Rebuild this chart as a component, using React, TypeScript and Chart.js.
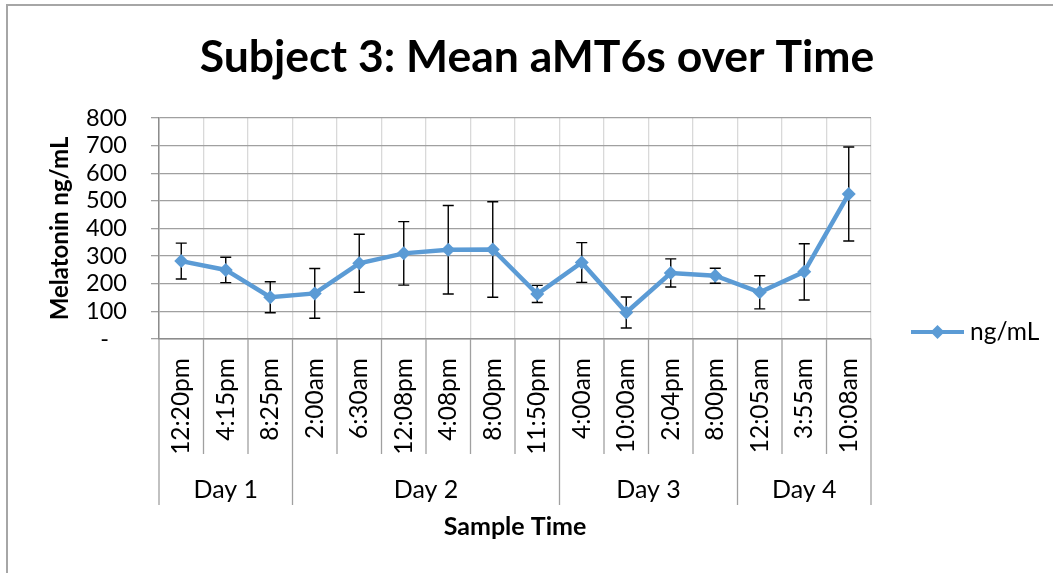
import React, { useEffect, useRef } from 'react';
import { Chart, registerables } from 'chart.js';

Chart.register(...registerables);

const chartTitle = 'Subject 3: Mean aMT6s over Time';
const yAxisTitle = 'Melatonin ng/mL';
const xAxisTitle = 'Sample Time';
const seriesName = 'ng/mL';

const sampleTimes = [
  '12:20pm', '4:15pm', '8:25pm',
  '2:00am', '6:30am', '12:08pm', '4:08pm', '8:00pm', '11:50pm',
  '4:00am', '10:00am', '2:04pm', '8:00pm',
  '12:05am', '3:55am', '10:08am',
];
const dayLabels = ['Day 1', 'Day 2', 'Day 3', 'Day 4'];
const daySizes = [3, 6, 4, 3];

const meanValues = [282, 250, 151, 165, 274, 310, 323, 324, 163, 277, 96, 239, 229, 169, 243, 525];
const errorValues = [65, 46, 56, 90, 105, 115, 160, 173, 31, 72, 56, 51, 27, 60, 102, 170];

const yMin = 0;
const yMax = 800;
const yStep = 100;

const FONT = 'Lato';
const LINE_COLOR = '#5b9bd5';

const decorPlugin = {
  id: 'decor',
  beforeDraw(chart: any) {
    const ctx = chart.ctx;
    ctx.save();
    ctx.fillStyle = '#ffffff';
    ctx.fillRect(0, 0, chart.width, chart.height);
    ctx.strokeStyle = '#a6a6a6';
    ctx.lineWidth = 2;
    ctx.beginPath();
    ctx.moveTo(7, chart.height);
    ctx.lineTo(7, 5);
    ctx.lineTo(chart.width, 5);
    ctx.stroke();
    ctx.restore();
  },
  beforeDatasetsDraw(chart: any) {
    const { ctx, scales } = chart;
    const x = scales.x;
    const y = scales.y;
    ctx.save();
    ctx.strokeStyle = '#000000';
    ctx.lineWidth = 1.4;
    meanValues.forEach((m, i) => {
      const px = x.getPixelForValue(i);
      const top = y.getPixelForValue(m + errorValues[i]);
      const bot = y.getPixelForValue(m - errorValues[i]);
      ctx.beginPath();
      ctx.moveTo(px, top);
      ctx.lineTo(px, bot);
      ctx.moveTo(px - 5.5, top);
      ctx.lineTo(px + 5.5, top);
      ctx.moveTo(px - 5.5, bot);
      ctx.lineTo(px + 5.5, bot);
      ctx.stroke();
    });
    ctx.restore();
  },
  afterDraw(chart: any) {
    const { ctx, chartArea, scales } = chart;
    const x = scales.x;
    const n = sampleTimes.length;
    const groupEnds = new Set<number>();
    let acc = 0;
    groupEnds.add(0);
    daySizes.forEach((s) => {
      acc += s;
      groupEnds.add(acc);
    });
    ctx.save();
    // category separators below axis
    ctx.strokeStyle = '#a0a0a0';
    ctx.lineWidth = 1.3;
    for (let i = 0; i <= n; i++) {
      let px: number;
      if (i === 0) px = chartArea.left;
      else if (i === n) px = chartArea.right;
      else px = (x.getPixelForValue(i - 1) + x.getPixelForValue(i)) / 2;
      const bottom = groupEnds.has(i) ? chartArea.bottom + 166 : chartArea.bottom + 115;
      ctx.beginPath();
      ctx.moveTo(px, chartArea.bottom);
      ctx.lineTo(px, bottom);
      ctx.stroke();
    }
    // day labels
    ctx.fillStyle = '#000000';
    ctx.font = `25px ${FONT}`;
    ctx.textAlign = 'center';
    ctx.textBaseline = 'middle';
    acc = 0;
    dayLabels.forEach((d, k) => {
      const first = acc;
      const last = acc + daySizes[k] - 1;
      acc += daySizes[k];
      const cx = (x.getPixelForValue(first) + x.getPixelForValue(last)) / 2;
      ctx.fillText(d, cx, chartArea.bottom + 151);
    });
    // x axis title
    ctx.font = `bold 25px ${FONT}`;
    ctx.fillText(xAxisTitle, (chartArea.left + chartArea.right) / 2, chartArea.bottom + 188);
    // chart title
    ctx.font = `bold 44.5px ${FONT}`;
    ctx.fillText(chartTitle, 537, 58);
    // legend
    const ly = 332;
    const lx0 = chartArea.right + 40;
    const lx1 = chartArea.right + 93;
    ctx.strokeStyle = LINE_COLOR;
    ctx.lineWidth = 4;
    ctx.beginPath();
    ctx.moveTo(lx0, ly);
    ctx.lineTo(lx1, ly);
    ctx.stroke();
    const dc = (lx0 + lx1) / 2;
    ctx.fillStyle = LINE_COLOR;
    ctx.beginPath();
    ctx.moveTo(dc, ly - 7);
    ctx.lineTo(dc + 7, ly);
    ctx.lineTo(dc, ly + 7);
    ctx.lineTo(dc - 7, ly);
    ctx.closePath();
    ctx.fill();
    ctx.fillStyle = '#000000';
    ctx.font = `24.5px ${FONT}`;
    ctx.textAlign = 'left';
    ctx.fillText(seriesName, lx1 + 6, ly);
    ctx.restore();
  },
};

export default function App() {
  const canvasRef = useRef<HTMLCanvasElement | null>(null);

  useEffect(() => {
    const canvas = canvasRef.current;
    if (!canvas) return;
    const chart = new Chart(canvas, {
      type: 'line',
      data: {
        labels: sampleTimes,
        datasets: [
          {
            label: seriesName,
            data: meanValues,
            borderColor: LINE_COLOR,
            backgroundColor: LINE_COLOR,
            borderWidth: 4.5,
            pointStyle: 'rectRot',
            pointRadius: 7,
            pointBorderWidth: 0,
            pointBackgroundColor: LINE_COLOR,
            tension: 0,
            fill: false,
          },
        ],
      },
      options: {
        responsive: false,
        animation: false,
        layout: { padding: { top: 118, right: 182, left: 0, bottom: 0 } },
        plugins: {
          legend: { display: false },
          title: { display: false },
          tooltip: { enabled: false },
        },
        scales: {
          x: {
            type: 'category',
            offset: true,
            grid: {
              offset: true,
              color: '#d9d9d9',
              lineWidth: 1.3,
              drawTicks: false,
            },
            border: { display: true, color: '#8c8c8c', width: 1.5 },
            ticks: {
              autoSkip: false,
              minRotation: 90,
              maxRotation: 90,
              padding: 19,
              color: '#000000',
              font: { family: FONT, size: 24.5 },
            },
            afterFit: (s: any) => {
              s.height = 234;
            },
          },
          y: {
            min: yMin,
            max: yMax,
            grid: {
              color: '#a0a0a0',
              lineWidth: 1.3,
              drawTicks: true,
              tickLength: 8,
            },
            border: { display: true, color: '#8c8c8c', width: 1.5 },
            ticks: {
              autoSkip: false,
              stepSize: yStep,
              padding: 24,
              color: '#000000',
              font: { family: FONT, size: 23.5 },
              callback: (v: any) => (Number(v) === 0 ? '-   ' : String(v)),
            },
            title: {
              display: true,
              text: yAxisTitle,
              color: '#000000',
              font: { family: FONT, size: 24, weight: 'bold' },
              padding: { top: 46, bottom: 0 },
            },
            afterFit: (s: any) => {
              s.width = 159;
            },
          },
        },
      },
      plugins: [decorPlugin],
    });
    return () => chart.destroy();
  }, []);

  return (
    <div style={{ position: 'fixed', left: 0, top: 0, width: 1053, height: 573 }}>
      <canvas ref={canvasRef} width={1053} height={573} style={{ display: 'block' }} />
    </div>
  );
}
